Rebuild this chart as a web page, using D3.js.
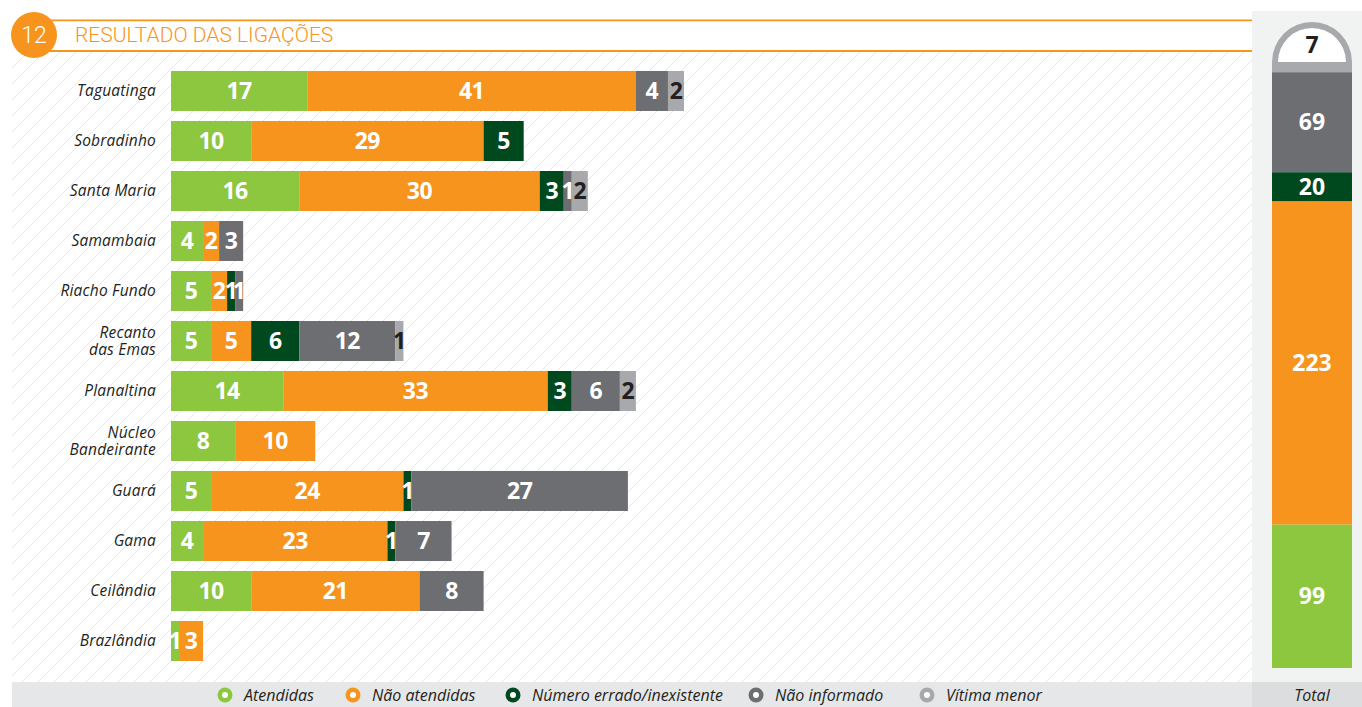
<!DOCTYPE html>
<html>
<head>
<meta charset="utf-8">
<script src="https://cdn.jsdelivr.net/npm/d3@7"></script>
<style>
  body { margin: 0; background: #fff; }
  svg { display: block; }
</style>
</head>
<body>
<div id="chart"></div>
<script>
// dados
var regioes = ["Taguatinga", "Sobradinho", "Santa Maria", "Samambaia", "Riacho Fundo",
  "Recanto das Emas", "Planaltina", "Núcleo Bandeirante", "Guará", "Gama", "Ceilândia", "Brazlândia"];
var linhasRotulo = [["Taguatinga"], ["Sobradinho"], ["Santa Maria"], ["Samambaia"], ["Riacho Fundo"],
  ["Recanto", "das Emas"], ["Planaltina"], ["Núcleo", "Bandeirante"], ["Guará"], ["Gama"], ["Ceilândia"], ["Brazlândia"]];
var categorias = ["Atendidas", "Não atendidas", "Número errado/inexistente", "Não informado", "Vítima menor"];

var atendidas    = [17, 10, 16, 4, 5, 5, 14, 8, 5, 4, 10, 1];
var naoAtendidas = [41, 29, 30, 2, 2, 5, 33, 10, 24, 23, 21, 3];
var numErrado    = [0, 5, 3, 0, 1, 6, 3, 0, 1, 1, 0, 0];
var naoInformado = [4, 0, 1, 3, 1, 12, 6, 0, 27, 7, 8, 0];
var vitimaMenor  = [2, 0, 2, 0, 0, 1, 2, 0, 0, 0, 0, 0];

var cores = ["#8dc63f", "#f7941d", "#00491f", "#6d6e71", "#a7a9ac"];
var corTexto = ["#fff", "#fff", "#fff", "#fff", "#231f20"];

var series = [atendidas, naoAtendidas, numErrado, naoInformado, vitimaMenor];

var W = 1362, H = 707;
var svg = d3.select("#chart").append("svg").attr("width", W).attr("height", H);

// fundo listrado
var defs = svg.append("defs");
var pat = defs.append("pattern").attr("id", "hatch").attr("patternUnits", "userSpaceOnUse")
  .attr("width", 16).attr("height", 16);
pat.append("path").attr("d", "M-4,4 L4,-4 M0,16 L16,0 M12,20 L20,12")
  .attr("stroke", "#e6e7e8").attr("stroke-width", 1);

svg.append("rect").attr("x", 12).attr("y", 52).attr("width", 1240).attr("height", 630)
  .attr("fill", "url(#hatch)");

// painel total
svg.append("rect").attr("x", 1252).attr("y", 11).attr("width", 110).attr("height", 671).attr("fill", "#f1f2f2");

// barra inferior / legenda
svg.append("rect").attr("x", 12).attr("y", 682).attr("width", 1240).attr("height", 25).attr("fill", "#e6e7e8");
svg.append("rect").attr("x", 1252).attr("y", 682).attr("width", 110).attr("height", 25).attr("fill", "#dcddde");

// cabeçalho
svg.append("line").attr("x1", 50).attr("x2", 1252).attr("y1", 20.5).attr("y2", 20.5)
  .attr("stroke", "#f7941d").attr("stroke-width", 2);
svg.append("line").attr("x1", 50).attr("x2", 1252).attr("y1", 51).attr("y2", 51)
  .attr("stroke", "#f7941d").attr("stroke-width", 2);
svg.append("rect").attr("x", 50).attr("y", 21.5).attr("width", 1202).attr("height", 28.5).attr("fill", "#fff");
svg.append("circle").attr("cx", 34).attr("cy", 35).attr("r", 23).attr("fill", "#f7941d");
svg.append("text").attr("x", 34).attr("y", 43).attr("text-anchor", "middle")
  .attr("font-family", "Roboto").attr("font-weight", 300).attr("font-size", 23).attr("fill", "#fff").text("12");
svg.append("text").attr("x", 75).attr("y", 42).attr("font-family", "Roboto").attr("font-weight", 300)
  .attr("font-size", 21).attr("fill", "#f7941d").text("RESULTADO DAS LIGAÇÕES");

// escalas
var x = d3.scaleLinear().domain([0, 64]).range([171, 684]);
var y = d3.scaleBand().domain(regioes).range([66, 666]).paddingInner(0.2).paddingOuter(0.1);

var dados = regioes.map(function(r, i) {
  var o = { regiao: r };
  categorias.forEach(function(c, j) { o[c] = series[j][i]; });
  return o;
});
var pilha = d3.stack().keys(categorias)(dados);

var g = svg.append("g");
pilha.forEach(function(camada, j) {
  g.selectAll(".s" + j).data(camada.filter(function(d) { return d[1] > d[0]; }))
    .enter().append("rect")
    .attr("x", function(d) { return x(d[0]); })
    .attr("y", function(d) { return y(d.data.regiao); })
    .attr("width", function(d) { return x(d[1]) - x(d[0]); })
    .attr("height", y.bandwidth())
    .attr("fill", cores[j]);
});
// rótulos por cima das barras
pilha.forEach(function(camada, j) {
  g.selectAll(".t" + j).data(camada.filter(function(d) { return d[1] > d[0]; }))
    .enter().append("text")
    .attr("x", function(d) { return (x(d[0]) + x(d[1])) / 2; })
    .attr("y", function(d) { return y(d.data.regiao) + y.bandwidth() / 2 + 8; })
    .attr("text-anchor", "middle")
    .attr("font-family", "Open Sans").attr("font-weight", 700).attr("font-size", 23)
    .attr("letter-spacing", "-0.5")
    .attr("fill", corTexto[j])
    .text(function(d) { return d[1] - d[0]; });
});

// nomes das regiões
var rot = svg.append("g").selectAll("text").data(regioes).enter().append("text")
  .attr("text-anchor", "end")
  .attr("font-family", "Open Sans").attr("font-style", "italic").attr("font-size", 15.5)
  .attr("letter-spacing", "0.2")
  .attr("fill", "#231f20")
  .attr("y", function(d) { return y(d) + y.bandwidth() / 2; });
rot.each(function(d, i) {
  var ls = linhasRotulo[i];
  var t = d3.select(this);
  ls.forEach(function(l, k) {
    t.append("tspan").attr("x", 156)
      .attr("dy", k === 0 ? (ls.length === 1 ? 5 : -3) : 17)
      .text(l);
  });
});

// coluna total
var totais = series.map(function(s) { return d3.sum(s); });
var yt = d3.scaleLinear().domain([0, d3.sum(totais)]).range([668, 62]);
var acc = 0;
var tg = svg.append("g");
totais.forEach(function(v, j) {
  var y0 = yt(acc), y1 = yt(acc + v);
  tg.append("rect").attr("x", 1272).attr("width", 80).attr("y", y1).attr("height", y0 - y1).attr("fill", cores[j]);
  if (j < 4) {
    tg.append("text").attr("x", 1312).attr("y", (y0 + y1) / 2 + 8).attr("text-anchor", "middle")
      .attr("font-family", "Open Sans").attr("font-weight", 700).attr("font-size", 23)
      .attr("fill", "#fff").text(v);
  } else {
    // tampa arredondada
    var cy = y1;
    tg.append("path")
      .attr("d", "M1272," + cy + " A40,40 0 0 1 1352," + cy + " Z")
      .attr("fill", cores[j]);
    tg.append("path")
      .attr("d", "M1278," + cy + " A34,34 0 0 1 1346," + cy + " Z")
      .attr("fill", "#fff");
    tg.append("text").attr("x", 1312).attr("y", cy - 9).attr("text-anchor", "middle")
      .attr("font-family", "Open Sans").attr("font-weight", 700).attr("font-size", 23)
      .attr("fill", "#231f20").text(v);
  }
  acc += v;
});

// legenda
var legX = [225, 353, 513, 756, 927];
var leg = svg.append("g").selectAll("g").data(categorias).enter().append("g")
  .attr("transform", function(d, i) { return "translate(" + legX[i] + ",695)"; });
leg.append("circle").attr("r", 7.5).attr("fill", function(d, i) { return cores[i]; });
leg.append("circle").attr("r", 3).attr("fill", "#fff");
leg.append("text").attr("x", 19).attr("y", 5.5)
  .attr("font-family", "Open Sans").attr("font-style", "italic").attr("font-size", 16)
  .attr("fill", "#231f20").text(function(d) { return d; });

svg.append("text").attr("x", 1312).attr("y", 701).attr("text-anchor", "middle")
  .attr("font-family", "Open Sans").attr("font-style", "italic").attr("font-size", 16)
  .attr("fill", "#231f20").text("Total");
</script>
</body>
</html>
